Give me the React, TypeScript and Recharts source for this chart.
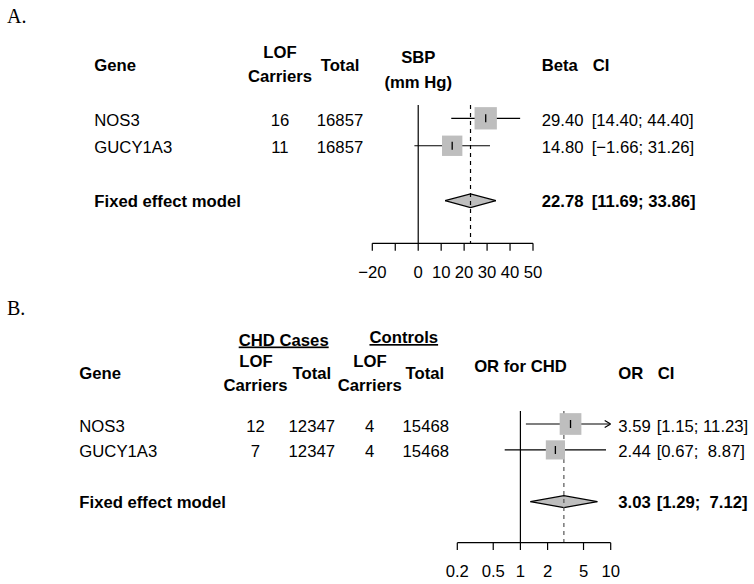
import React from 'react';
import { ComposedChart, XAxis, YAxis, Line, Scatter, Area } from 'recharts';

const FONT = '"Liberation Sans", Arial, Helvetica, sans-serif';
const SERIF = '"Liberation Serif", "Times New Roman", serif';
const FS = 16.7;

// ---------- Panel A: SBP ----------
const genes = ['NOS3', 'GUCY1A3'];
const lofCarriersA = [16, 11];
const totalA = [16857, 16857];
const betaA = [29.4, 14.8];
const betaLowA = [14.4, -1.66];
const betaHighA = [44.4, 31.26];
const weightA = [54.6, 45.4];
const pooledEstA = 22.78;
const pooledLowA = 11.69;
const pooledHighA = 33.86;
const ticksA = [-20, -10, 0, 10, 20, 30, 40, 50];
const tickLabelsA = ['\u221220', '', '0', '10', '20', '30', '40', '50'];

// ---------- Panel B: CHD ----------
const caseLofB = [12, 7];
const caseTotalB = [12347, 12347];
const ctrlLofB = [4, 4];
const ctrlTotalB = [15468, 15468];
const orB = [3.59, 2.44];
const orLowB = [1.15, 0.67];
const orHighB = [11.23, 8.87];
const weightB = [56.2, 43.8];
const pooledEstB = 3.03;
const pooledLowB = 1.29;
const pooledHighB = 7.12;
const ticksB = [0.2, 0.5, 1, 2, 5, 10];
const tickLabelsB = ['0.2', '0.5', '1', '2', '5', '10'];

const fmt = (v: number) => v.toFixed(2).replace('-', '\u2212');

function ciTexts(lo: number[], hi: number[]) {
  const los = lo.map(fmt);
  const his = hi.map(fmt);
  const wl = Math.max(...los.map((s) => s.length));
  const wh = Math.max(...his.map((s) => s.length));
  return lo.map((_, i) => `[${los[i].padStart(wl, ' ')}; ${his[i].padStart(wh, ' ')}]`);
}

const ciA = ciTexts([...betaLowA, pooledLowA], [...betaHighA, pooledHighA]);
const ciB = ciTexts([...orLowB, pooledLowB], [...orHighB, pooledHighB]);

type PanelProps = {
  left: number;
  top: number;
  width: number;
  height: number;
  margin: { top: number; right: number; bottom: number; left: number };
  xDomain: [number, number];
  yDomain: [number, number];
  scale: 'linear' | 'log';
  ticks: number[];
  tickLabels: string[];
  tickMargin: number;
  tickSize: number;
  xAxisHeight: number;
  est: number[];
  lo: number[];
  hi: number[];
  weight: number[];
  pooledEst: number;
  pooledLo: number;
  pooledHi: number;
  nullValue: number;
  boxScale: number;
  diamondHalf: number;
  dashColor: string;
};

const LW = 1.2;

const EmptyDot = (props: any) => <g key={`e-${props.index}`} />;

function Panel(p: PanelProps) {
  const [axMin, axMax] = p.xDomain;
  const pooledRow = p.est.length + 2;
  const boxes = p.est.map((e, i) => ({ x: e, y: i + 1, w: p.weight[i] }));
  const ciLines = p.est.map((_, i) => [
    { x: Math.max(p.lo[i], axMin), y: i + 1, arrow: p.lo[i] < axMin ? -1 : 0 },
    { x: Math.min(p.hi[i], axMax), y: i + 1, arrow: p.hi[i] > axMax ? 1 : 0 },
  ]);
  const diamond = [
    { x: p.pooledLo, d: [pooledRow, pooledRow] },
    { x: p.pooledEst, d: [pooledRow - p.diamondHalf, pooledRow + p.diamondHalf] },
    { x: p.pooledHi, d: [pooledRow, pooledRow] },
  ];
  const nullLine = [
    { x: p.nullValue, y: p.yDomain[0] },
    { x: p.nullValue, y: p.yDomain[1] },
  ];
  const pooledLine = [
    { x: p.pooledEst, y: p.yDomain[0] },
    { x: p.pooledEst, y: p.yDomain[1] },
  ];

  const Box = (props: any) => {
    const { cx, cy, payload } = props;
    const s = p.boxScale * Math.sqrt(payload.w);
    return (
      <g>
        <rect x={cx - s / 2} y={cy - s / 2} width={s} height={s} fill="#bebebe" />
        <line x1={cx} x2={cx} y1={cy - 4} y2={cy + 4} stroke="#000" strokeWidth={1.3} />
      </g>
    );
  };

  const ArrowDot = (props: any) => {
    const { cx, cy, payload, index } = props;
    if (!payload || !payload.arrow) return <g key={`a-${index}`} />;
    const dir = payload.arrow;
    return (
      <path
        key={`a-${index}`}
        d={`M${cx - dir * 6},${cy - 3.5} L${cx},${cy} L${cx - dir * 6},${cy + 3.5}`}
        fill="none"
        stroke="#000"
        strokeWidth={LW}
      />
    );
  };

  return (
    <div style={{ position: 'absolute', left: p.left, top: p.top, width: p.width, height: p.height }}>
      <ComposedChart width={p.width} height={p.height} margin={p.margin}>
        <XAxis
          type="number"
          dataKey="x"
          scale={p.scale}
          domain={p.xDomain}
          ticks={p.ticks}
          interval={0}
          allowDataOverflow
          height={p.xAxisHeight}
          tickSize={p.tickSize}
          tickMargin={p.tickMargin}
          tickFormatter={(v: number) => p.tickLabels[p.ticks.indexOf(v)] ?? String(v)}
          axisLine={{ stroke: '#000', strokeWidth: LW }}
          tickLine={{ stroke: '#000', strokeWidth: LW }}
          tick={{ fontSize: FS, fill: '#000', fontFamily: FONT }}
        />
        <YAxis type="number" dataKey="y" hide domain={p.yDomain} reversed allowDataOverflow />
        <Line
          data={nullLine}
          dataKey="y"
          type="linear"
          stroke="#000"
          strokeWidth={LW}
          dot={false}
          activeDot={false}
          isAnimationActive={false}
        />
        <Line
          data={pooledLine}
          dataKey="y"
          type="linear"
          stroke={p.dashColor}
          strokeWidth={LW}
          strokeDasharray="4 4"
          dot={false}
          activeDot={false}
          isAnimationActive={false}
        />
        {ciLines.map((d, i) => (
          <Line
            key={`ci-${i}`}
            data={d}
            dataKey="y"
            type="linear"
            stroke="#000"
            strokeWidth={LW}
            dot={ArrowDot}
            activeDot={false}
            isAnimationActive={false}
          />
        ))}
        <Scatter data={boxes} shape={Box} isAnimationActive={false} />
        <Area
          data={diamond}
          dataKey="d"
          type="linear"
          stroke="#000"
          strokeWidth={LW}
          fill="#bebebe"
          fillOpacity={1}
          dot={false}
          activeDot={false}
          isAnimationActive={false}
        />
      </ComposedChart>
    </div>
  );
}

type T = {
  x: number;
  y: number;
  s: string;
  a?: 'start' | 'middle' | 'end';
  b?: boolean;
  u?: boolean;
};

function Txt({ x, y, s, a = 'start', b = false, u = false }: T) {
  return (
    <text
      x={x}
      y={y}
      textAnchor={a}
      fontFamily={FONT}
      fontSize={FS}
      fontWeight={b ? 700 : 400}
      fill="#000"
      textDecoration={u ? 'underline' : undefined}
      style={{ whiteSpace: 'pre' }}
    >
      {s}
    </text>
  );
}

export default function App() {
  const rowBaseA = [126, 152.5];
  const pooledBaseA = 206.7;
  const rowBaseB = [431.5, 456.7];
  const pooledBaseB = 508.3;

  return (
    <div style={{ position: 'absolute', left: 0, top: 0, width: 754, height: 584, background: '#fff', overflow: 'hidden' }}>
      <Panel
        left={340}
        top={90}
        width={260}
        height={200}
        margin={{ top: 15, right: 67, bottom: 6.7, left: 32.3 }}
        xDomain={[-20, 50]}
        yDomain={[0.516, 5.551]}
        scale="linear"
        ticks={ticksA}
        tickLabels={tickLabelsA}
        tickSize={7.4}
        tickMargin={15.7}
        xAxisHeight={40}
        est={betaA}
        lo={betaLowA}
        hi={betaHighA}
        weight={weightA}
        pooledEst={pooledEstA}
        pooledLo={pooledLowA}
        pooledHi={pooledHighA}
        nullValue={0}
        boxScale={3.02}
        diamondHalf={0.248}
        dashColor="#000"
      />
      <Panel
        left={430}
        top={400}
        width={220}
        height={184}
        margin={{ top: 11, right: 39.3, bottom: 7.3, left: 27.3 }}
        xDomain={[0.2, 10]}
        yDomain={[0.498, 5.583]}
        scale="log"
        ticks={ticksB}
        tickLabels={tickLabelsB}
        tickSize={7.3}
        tickMargin={14.8}
        xAxisHeight={34}
        est={orB}
        lo={orLowB}
        hi={orHighB}
        weight={weightB}
        pooledEst={pooledEstB}
        pooledLo={pooledLowB}
        pooledHi={pooledHighB}
        nullValue={1}
        boxScale={2.895}
        diamondHalf={0.232}
        dashColor="#555"
      />
      <svg width={754} height={584} style={{ position: 'absolute', left: 0, top: 0, pointerEvents: 'none' }}>
        {/* Panel A */}
        <text x={7} y={22.7} fontFamily={SERIF} fontSize={20} fill="#000">A.</text>
        <Txt x={94.3} y={70.5} s="Gene" b />
        <Txt x={280} y={58.3} s="LOF" a="middle" b />
        <Txt x={280} y={81.7} s="Carriers" a="middle" b />
        <Txt x={340} y={70.5} s="Total" a="middle" b />
        <Txt x={418.3} y={63.3} s="SBP" a="middle" b />
        <Txt x={418.3} y={88.3} s="(mm Hg)" a="middle" b />
        <Txt x={541.7} y={70.5} s="Beta" b />
        <Txt x={592.7} y={70.5} s="CI" b />
        {genes.map((g, i) => (
          <g key={`a-${g}`}>
            <Txt x={94.3} y={rowBaseA[i]} s={g} />
            <Txt x={280} y={rowBaseA[i]} s={String(lofCarriersA[i])} a="middle" />
            <Txt x={340} y={rowBaseA[i]} s={String(totalA[i])} a="middle" />
            <Txt x={541.7} y={rowBaseA[i]} s={fmt(betaA[i])} />
            <Txt x={591.7} y={rowBaseA[i]} s={ciA[i]} />
          </g>
        ))}
        <Txt x={94.3} y={pooledBaseA} s="Fixed effect model" b />
        <Txt x={541.7} y={pooledBaseA} s={fmt(pooledEstA)} b />
        <Txt x={591.7} y={pooledBaseA} s={ciA[genes.length]} b />

        {/* Panel B */}
        <text x={7} y={315} fontFamily={SERIF} fontSize={20} fill="#000">B.</text>
        <Txt x={283.7} y={345.5} s="CHD Cases" a="middle" b u />
        <Txt x={403.8} y={343} s="Controls" a="middle" b u />
        <Txt x={79.3} y={379} s="Gene" b />
        <Txt x={256} y={367.3} s="LOF" a="middle" b />
        <Txt x={255.5} y={390.7} s="Carriers" a="middle" b />
        <Txt x={311.8} y={379} s="Total" a="middle" b />
        <Txt x={370} y={367.3} s="LOF" a="middle" b />
        <Txt x={369.7} y={390.7} s="Carriers" a="middle" b />
        <Txt x={424.8} y={379} s="Total" a="middle" b />
        <Txt x={520.5} y={372.3} s="OR for CHD" a="middle" b />
        <Txt x={618.3} y={379.3} s="OR" b />
        <Txt x={657.7} y={379.3} s="CI" b />
        {genes.map((g, i) => (
          <g key={`b-${g}`}>
            <Txt x={79.3} y={rowBaseB[i]} s={g} />
            <Txt x={255.5} y={rowBaseB[i]} s={String(caseLofB[i])} a="middle" />
            <Txt x={311.8} y={rowBaseB[i]} s={String(caseTotalB[i])} a="middle" />
            <Txt x={369.7} y={rowBaseB[i]} s={String(ctrlLofB[i])} a="middle" />
            <Txt x={425.8} y={rowBaseB[i]} s={String(ctrlTotalB[i])} a="middle" />
            <Txt x={618.3} y={rowBaseB[i]} s={fmt(orB[i])} />
            <Txt x={656.7} y={rowBaseB[i]} s={ciB[i]} />
          </g>
        ))}
        <Txt x={79.3} y={pooledBaseB} s="Fixed effect model" b />
        <Txt x={618.3} y={pooledBaseB} s={fmt(pooledEstB)} b />
        <Txt x={656.7} y={pooledBaseB} s={ciB[genes.length]} b />
      </svg>
    </div>
  );
}
